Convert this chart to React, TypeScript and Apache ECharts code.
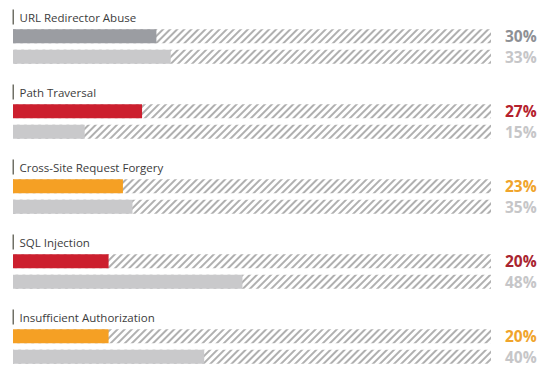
import React, { useEffect, useRef } from "react";
import * as echarts from "echarts";

const categories = [
  "URL Redirector Abuse",
  "Path Traversal",
  "Cross-Site Request Forgery",
  "SQL Injection",
  "Insufficient Authorization",
];
const currentValues = [30, 27, 23, 20, 20];
const previousValues = [33, 15, 25, 48, 40];
const currentLabels = ["30%", "27%", "23%", "20%", "20%"];
const previousLabels = ["33%", "15%", "35%", "48%", "40%"];
const trackMax = 100;

const currentBarColors = ["#9b9da2", "#cc1f2e", "#f5a024", "#cc1f2e", "#f5a024"];
const currentTextColors = ["#8e9095", "#b5212d", "#f0a42c", "#a92430", "#f0a42c"];
const previousBarColor = "#c9c9cb";
const previousTextColor = "#c6c6c8";

export default function App() {
  const ref = useRef<HTMLDivElement>(null);
  useEffect(() => {
    if (!ref.current) return;
    const chart = echarts.init(ref.current, null, { renderer: "svg" });
    const grids: any[] = [];
    const xAxes: any[] = [];
    const yAxes: any[] = [];
    const series: any[] = [];
    const graphics: any[] = [];
    categories.forEach((cat, i) => {
      const top = 26 + 75 * i;
      grids.push({ left: 13, right: 62, top, height: 41 });
      xAxes.push({ type: "value", min: 0, max: trackMax, gridIndex: i, show: false });
      yAxes.push({
        type: "category",
        gridIndex: i,
        inverse: true,
        data: ["current", "previous"],
        show: false,
      });
      const labels = [currentLabels[i], previousLabels[i]];
      series.push({
        type: "bar",
        xAxisIndex: i,
        yAxisIndex: i,
        barWidth: 14,
        barGap: "-100%",
        silent: true,
        itemStyle: {
          color: "#ffffff",
          decal: {
            symbol: "rect",
            symbolSize: 1,
            color: "#b0b0b0",
            dashArrayX: [1, 0],
            dashArrayY: [1.2, 2.3],
            rotation: -Math.PI / 4,
          },
        },
        label: {
          show: true,
          position: "right",
          distance: 14,
          fontFamily: "Open Sans",
          fontWeight: "bold",
          fontSize: 15.5,
          formatter: (p: any) => labels[p.dataIndex],
        },
        data: [
          { value: trackMax, label: { color: currentTextColors[i] } },
          { value: trackMax, label: { color: previousTextColor } },
        ],
      });
      series.push({
        type: "bar",
        xAxisIndex: i,
        yAxisIndex: i,
        barWidth: 14,
        barGap: "-100%",
        silent: true,
        data: [
          { value: currentValues[i], itemStyle: { color: currentBarColors[i] } },
          { value: previousValues[i], itemStyle: { color: previousBarColor } },
        ],
      });
      graphics.push({
        type: "rect",
        shape: { x: 12.5, y: top - 16.5, width: 1.5, height: 15 },
        style: { fill: "#707066" },
      });
      graphics.push({
        type: "text",
        x: 19.5,
        y: top - 8.5,
        style: {
          text: cat,
          fill: "#3c3c3c",
          fontFamily: "Open Sans",
          fontSize: 11.5,
          verticalAlign: "middle",
        },
      });
    });
    chart.setOption({
      animation: false,
      backgroundColor: "#ffffff",
      grid: grids,
      xAxis: xAxes,
      yAxis: yAxes,
      series,
      graphic: graphics,
    });
    return () => chart.dispose();
  }, []);
  return (
    <div
      ref={ref}
      style={{ position: "fixed", left: 0, top: 0, width: 553, height: 383 }}
    />
  );
}
